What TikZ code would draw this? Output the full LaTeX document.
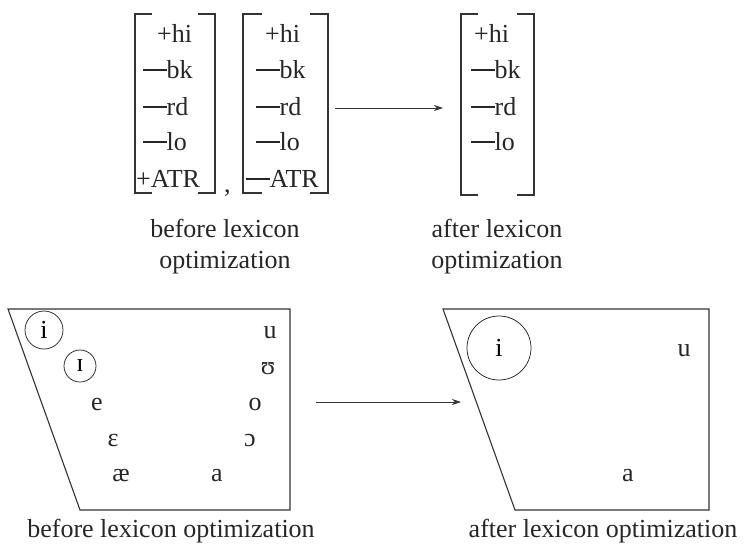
\documentclass[tikz,border=0pt]{standalone}
\usepackage{fontspec}
\setmainfont{Liberation Serif}
\usetikzlibrary{arrows.meta}
\newcommand\fmin{\rule[0.28em]{0.9em}{0.055em}}
\tikzset{
  lbl/.style={font=\fontsize{26}{30}\selectfont, inner sep=0pt, text=black!85},
  feat/.style={lbl, anchor=base west},
  vow/.style={lbl, anchor=base},
  brk/.style={draw=black!80, line width=1.1pt},
  ring/.style={draw=black!85, circle, line width=0.75pt, inner sep=0pt, font=\fontsize{26}{30}\selectfont},
  chart/.style={draw=black!80, line width=1.1pt, line join=miter},
  conn/.style={draw=black!80, line width=0.9pt, -{Stealth[length=9pt,width=6pt]}}
}
\begin{document}
\begin{tikzpicture}[x=1pt,y=-1pt]
\useasboundingbox (0,0) rectangle (756,547);
% ---------- matrix 1
\draw[brk] (152,14) -- (135,14) -- (135,193) -- (152,193);
\draw[brk] (198,14) -- (215,14) -- (215,193) -- (198,193);
\node[feat] (m1a) at (157,42) {+hi};
\node[feat] (m1b) at (143,78) {\fmin bk};
\node[feat] (m1c) at (143,115) {\fmin rd};
\node[feat] (m1d) at (143,150) {\fmin lo};
\node[feat] (m1e) at (136,187) {+ATR};
\node[feat] (comma) at (224,192) {,};
% ---------- matrix 2
\draw[brk] (262,14) -- (243,14) -- (243,193) -- (262,193);
\draw[brk] (310,14) -- (328,14) -- (328,193) -- (310,193);
\node[feat] (m2a) at (265,42) {+hi};
\node[feat] (m2b) at (256,78) {\fmin bk};
\node[feat] (m2c) at (256,115) {\fmin rd};
\node[feat] (m2d) at (256,150) {\fmin lo};
\node[feat] (m2e) at (246,187) {\fmin ATR};
% ---------- matrix 3
\draw[brk] (478,14) -- (461,14) -- (461,195) -- (478,195);
\draw[brk] (517,14) -- (534,14) -- (534,195) -- (517,195);
\node[feat] (m3a) at (474,42) {+hi};
\node[feat] (m3b) at (471,78) {\fmin bk};
\node[feat] (m3c) at (471,115) {\fmin rd};
\node[feat] (m3d) at (471,150) {\fmin lo};
% top arrow
\coordinate (ta) at (335,108);
\coordinate (tb) at (443,108);
\draw[conn] (ta) -- (tb);
% top labels
\node[vow] (l1) at (225,237) {before lexicon};
\node[vow] (l2) at (225,268) {optimization};
\node[vow] (l3) at (497,237) {after lexicon};
\node[vow] (l4) at (497,268) {optimization};
% ---------- left chart
\draw[chart] (8,309) -- (290,309) -- (290,510) -- (80,510) -- cycle;
\node[ring, minimum size=38pt] (ci) at (44,330) {i};
\node[ring, minimum size=32pt] (cI) at (80,366) {ɪ};
\node[vow] (ve) at (97,410) {e};
\node[vow] (veps) at (113,446) {ɛ};
\node[vow] (vae) at (121,481) {æ};
\node[vow] (va) at (217,481) {a};
\node[vow] (vu) at (270,338) {u};
\node[vow] (vups) at (268,374) {ʊ};
\node[vow] (vo) at (255,410) {o};
\node[vow] (vopen) at (250,446) {ɔ};
% bottom arrow
\coordinate (ba) at (316,402);
\coordinate (bb) at (461,402);
\draw[conn] (ba) -- (bb);
% ---------- right chart
\draw[chart] (443,309) -- (709,309) -- (709,510) -- (515,510) -- cycle;
\node[ring, minimum size=64pt] (ri) at (499,348) {i};
\node[vow] (ru) at (684,356) {u};
\node[vow] (ra) at (628,481) {a};
% bottom labels
\node[vow] (bl1) at (171,537) {before lexicon optimization};
\node[vow] (bl2) at (603,537) {after lexicon optimization};
\end{tikzpicture}
\end{document}
